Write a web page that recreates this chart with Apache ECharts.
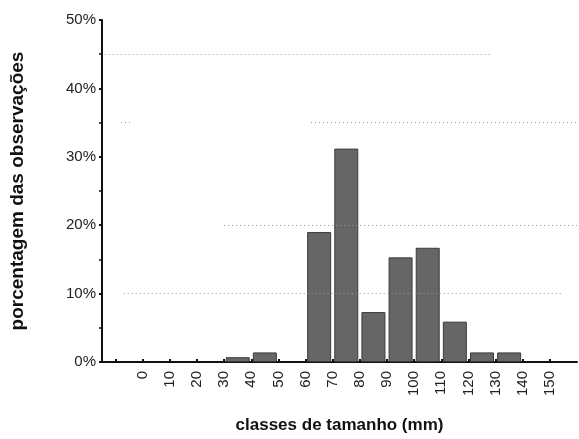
<!DOCTYPE html>
<html>
<head>
<meta charset="utf-8">
<script src="https://cdn.jsdelivr.net/npm/echarts@6/dist/echarts.min.js"></script>
<style>
  html, body { margin: 0; padding: 0; background: #fff; }
  #chart { width: 579px; height: 439px; }
</style>
</head>
<body>
<div id="chart"></div>
<script>
// classes de tamanho (centro de cada classe, mm) e porcentagens
const classCenters = [35, 45, 65, 75, 85, 95, 105, 115, 125, 135];
const percentages = [0.7, 1.4, 19.0, 31.2, 7.3, 15.3, 16.7, 5.9, 1.4, 1.4];
const tickValues = [-10, 0, 10, 20, 30, 40, 50, 60, 70, 80, 90, 100, 110, 120, 130, 140, 150];
const labelValues = [0, 10, 20, 30, 40, 50, 60, 70, 80, 90, 100, 110, 120, 130, 140, 150];
// linhas pontilhadas (parciais, como na figura digitalizada): [y, xInicio, xFim]
const guideLines = [
  [45, -14, 128],
  [35, 62, 160],
  [35, -8, -4],
  [20, 30, 160],
  [10, -7, 155]
];

const chart = echarts.init(document.getElementById('chart'));
const font = 'Liberation Sans, Arial, sans-serif';

chart.setOption({
  backgroundColor: '#fff',
  animation: false,
  grid: { left: 97, right: 2, top: 20, bottom: 72, containLabel: false },
  xAxis: {
    type: 'value',
    min: -15,
    max: 160,
    name: 'classes de tamanho (mm)',
    nameLocation: 'middle',
    nameGap: 55,
    nameTextStyle: { fontFamily: font, fontSize: 17, fontWeight: 'bold', color: '#111' },
    splitLine: { show: false },
    axisLine: { onZero: false, lineStyle: { color: '#111', width: 2 } },
    axisTick: { show: true, customValues: tickValues, length: 3, inside: true, lineStyle: { color: '#111', width: 2 } },
    axisLabel: {
      customValues: labelValues,
      rotate: 90,
      margin: 9,
      fontFamily: font,
      fontSize: 15,
      color: '#222'
    }
  },
  yAxis: {
    type: 'value',
    min: 0,
    max: 50,
    interval: 10,
    name: 'porcentagem das observações',
    nameLocation: 'middle',
    nameGap: 75,
    nameTextStyle: { fontFamily: font, fontSize: 19, fontWeight: 'bold', color: '#111' },
    splitLine: { show: false },
    axisLine: { show: true, onZero: false, lineStyle: { color: '#111', width: 2 } },
    axisTick: { show: true, length: 3, lineStyle: { color: '#111', width: 2 } },
    minorTick: { show: true, splitNumber: 2, length: 3, lineStyle: { color: '#111', width: 1.5 } },
    axisLabel: {
      formatter: '{value}%',
      margin: 6,
      fontFamily: font,
      fontSize: 15,
      color: '#222'
    }
  },
  series: [
    {
      type: 'bar',
      barWidth: 24,
      data: classCenters.map((c, i) => [c, percentages[i]]),
      itemStyle: { color: '#666', borderColor: '#3c3c3c', borderWidth: 1 },
      markLine: {
        silent: true,
        symbol: 'none',
        label: { show: false },
        lineStyle: { type: [1, 3], color: '#9a9a9a', width: 1 },
        data: guideLines.map(g => [{ coord: [g[1], g[0]] }, { coord: [g[2], g[0]] }])
      },
      z: 2
    }
  ]
});
</script>
</body>
</html>
